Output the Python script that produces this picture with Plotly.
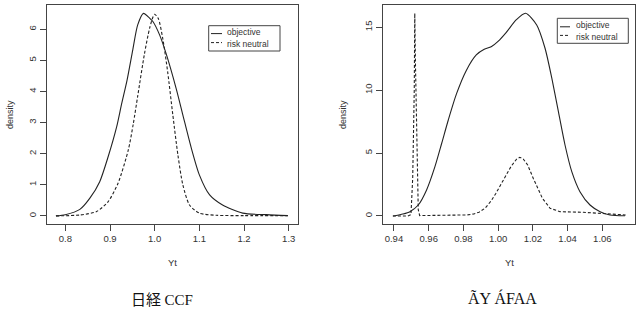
import plotly.graph_objects as go

W, H = 641, 316

# ---- data ----
nk_obj_x = [0.779, 0.80, 0.8326, 0.855, 0.877, 0.896, 0.915, 0.926, 0.938, 0.951, 0.962, 0.975, 0.9885, 0.996, 1.011, 1.026, 1.048, 1.063, 1.082, 1.10, 1.123, 1.152, 1.197, 1.25, 1.298]
nk_obj_y = [0.0, 0.04, 0.21, 0.57, 1.10, 1.91, 2.87, 3.6, 4.35, 5.34, 6.14, 6.51, 6.36, 6.25, 5.82, 5.2, 4.1, 3.25, 2.18, 1.32, 0.675, 0.35, 0.09, 0.04, 0.01]
nk_rn_x = [0.779, 0.833, 0.87, 0.896, 0.918, 0.941, 0.952, 0.962, 0.977, 0.989, 0.9996, 1.008, 1.018, 1.029, 1.0406, 1.052, 1.063, 1.078, 1.10, 1.138, 1.20, 1.298]
nk_rn_y = [0.0, 0.03, 0.14, 0.46, 1.05, 2.12, 2.95, 3.85, 5.2, 6.05, 6.48, 6.35, 5.71, 4.64, 3.25, 1.96, 1.0, 0.35, 0.09, 0.02, 0.01, 0.01]

r_obj_x = [0.9394, 0.9406, 0.945, 0.9492, 0.954, 0.9588, 0.9636, 0.9675, 0.9713, 0.976, 0.9816, 0.9874, 0.992, 0.996, 1.0001, 1.0047, 1.0105, 1.0158, 1.0222, 1.027, 1.0309, 1.0347, 1.0385, 1.0424, 1.0471, 1.0529, 1.0587, 1.0644, 1.0731]
r_obj_y = [0.0, 0.02, 0.15, 0.34, 0.87, 2.07, 3.92, 5.78, 7.63, 9.7, 11.55, 12.8, 13.25, 13.45, 13.9, 14.6, 15.6, 16.11, 15.18, 13.33, 10.95, 8.29, 5.64, 3.52, 1.93, 0.87, 0.34, 0.08, 0.02]
r_rn_x = [0.9394, 0.948, 0.9498, 0.9508, 0.9517, 0.952, 0.9524, 0.9531, 0.954, 0.9548, 0.97, 0.982, 0.986, 0.989, 0.9925, 0.996, 0.9985, 1.0011, 1.0045, 1.0075, 1.0105, 1.0125, 1.0145, 1.017, 1.0202, 1.0225, 1.0255, 1.0299, 1.0356, 1.049, 1.0644, 1.0734]
r_rn_y = [0.0, 0.0, 0.1, 3.0, 10.0, 16.11, 12.0, 6.0, 0.5, 0.03, 0.03, 0.08, 0.16, 0.3, 0.62, 1.2, 1.75, 2.4, 3.2, 3.95, 4.5, 4.66, 4.52, 4.05, 3.0, 2.25, 1.4, 0.61, 0.34, 0.29, 0.16, 0.08]

nk_xticks = [0.8, 0.9, 1.0, 1.1, 1.2, 1.3]
nk_xtext = ["0.8", "0.9", "1.0", "1.1", "1.2", "1.3"]
nk_yticks = [0, 1, 2, 3, 4, 5, 6]
r_xticks = [0.94, 0.96, 0.98, 1.00, 1.02, 1.04, 1.06]
r_xtext = ["0.94", "0.96", "0.98", "1.00", "1.02", "1.04", "1.06"]
r_yticks = [0, 5, 10, 15]

legend_labels = ["objective", "risk neutral"]
captions = ["日経 CCF", "ÃY ÁFAA"]
xlabel = "Yt"
ylabel = "density"

def px(x):
    return x / W

def py(y):
    return 1 - y / H

FONT = "Liberation Sans"
TXT = "#333333"
LINE = "#222222"
DASH = "3px,2px"

fig = go.Figure()
fig.add_trace(go.Scatter(x=nk_obj_x, y=nk_obj_y, mode="lines", line=dict(color=LINE, width=1.1, shape="spline", smoothing=0.7), xaxis="x", yaxis="y", showlegend=False))
fig.add_trace(go.Scatter(x=nk_rn_x, y=nk_rn_y, mode="lines", line=dict(color=LINE, width=1.1, dash=DASH, shape="spline", smoothing=0.7), xaxis="x", yaxis="y", showlegend=False))
fig.add_trace(go.Scatter(x=r_obj_x, y=r_obj_y, mode="lines", line=dict(color=LINE, width=1.1, shape="spline", smoothing=0.7), xaxis="x2", yaxis="y2", showlegend=False))
fig.add_trace(go.Scatter(x=r_rn_x, y=r_rn_y, mode="lines", line=dict(color=LINE, width=1.1, dash=DASH), xaxis="x2", yaxis="y2", showlegend=False))

axis_common = dict(showgrid=False, zeroline=False, showline=True, mirror=True, linecolor="#444444", linewidth=1,
                   ticks="outside", ticklen=6, tickcolor="#444444", tickfont=dict(family=FONT, size=9.5, color=TXT))

ydom = [py(224), py(5)]
fig.update_layout(
    width=W, height=H, margin=dict(l=0, r=0, t=0, b=0),
    paper_bgcolor="white", plot_bgcolor="white",
    xaxis=dict(domain=[px(47), px(298)], range=[0.759, 1.3208], tickvals=nk_xticks, ticktext=nk_xtext, anchor="y", **axis_common),
    yaxis=dict(domain=ydom, range=[-0.26, 6.78], tickvals=nk_yticks, tickangle=-90, anchor="x", **axis_common),
    xaxis2=dict(domain=[px(383), px(635)], range=[0.9337, 1.0788], tickvals=r_xticks, ticktext=r_xtext, anchor="y2", **axis_common),
    yaxis2=dict(domain=ydom, range=[-0.64, 16.77], tickvals=r_yticks, tickangle=-90, anchor="x2", **axis_common),
    showlegend=False,
)

shapes = []
annots = []

def add_legend(x0, y0, x1, y1, lx0, lx1, tx, ys):
    shapes.append(dict(type="rect", xref="paper", yref="paper", x0=px(x0), x1=px(x1), y0=py(y1), y1=py(y0),
                       line=dict(color="#444444", width=1), fillcolor="white"))
    mid = (ys[0] + ys[1]) / 2
    for i, (lab, yy) in enumerate(zip(legend_labels, ys)):
        shapes.append(dict(type="line", xref="paper", yref="paper", x0=px(lx0), x1=px(lx1), y0=py(yy), y1=py(yy),
                           line=dict(color=LINE, width=1, dash="solid" if i == 0 else DASH)))
        annots.append(dict(text=lab, xref="paper", yref="paper", x=px(tx), y=py(mid - 0.3 if i == 0 else mid + 0.3),
                           xanchor="left", yanchor="bottom" if i == 0 else "top", borderpad=0,
                           showarrow=False, font=dict(family=FONT, size=8.5, color=TXT)))

add_legend(208.7, 25.7, 280, 51, 211, 222, 225.5, [33.6, 42.6])
add_legend(557.3, 18.3, 628.3, 43.3, 560, 570, 574.5, [26.8, 35.4])

for cx in [172.5, 509]:
    annots.append(dict(text=xlabel, xref="paper", yref="paper", x=px(cx), y=py(262), xanchor="center", yanchor="middle",
                       showarrow=False, font=dict(family=FONT, size=9.5, color=TXT)))
for cx in [10, 343]:
    annots.append(dict(text=ylabel, xref="paper", yref="paper", x=px(cx), y=py(115), xanchor="center", yanchor="middle",
                       textangle=-90, showarrow=False, font=dict(family=FONT, size=9, color=TXT)))

annots.append(dict(text="日経 <span style='font-family:Liberation Serif'>CCF</span>", xref="paper", yref="paper", x=px(162.5), y=py(298),
                   xanchor="center", yanchor="middle", showarrow=False,
                   font=dict(family="Noto Sans CJK JP", size=15, color="#111111")))
annots.append(dict(text=captions[1], xref="paper", yref="paper", x=px(502.5), y=py(298), xanchor="center", yanchor="middle",
                   showarrow=False, font=dict(family="Liberation Serif", size=16, color="#111111")))

fig.update_layout(shapes=shapes, annotations=annots)
fig.write_html("out.html")
